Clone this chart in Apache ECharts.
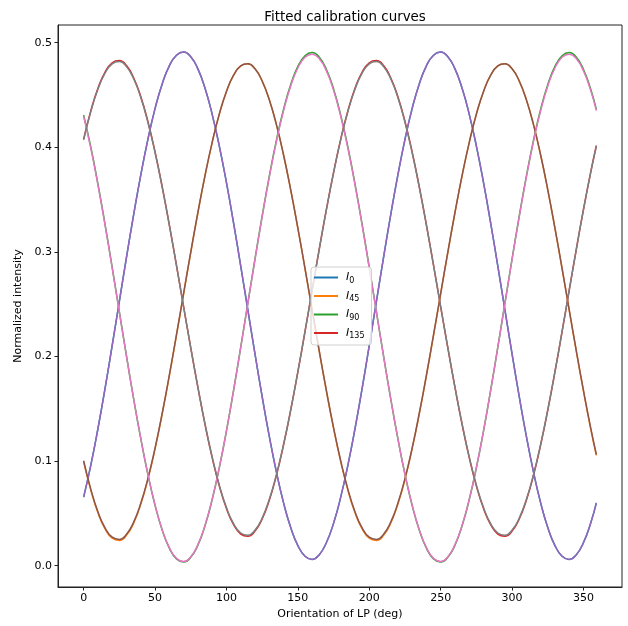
<!DOCTYPE html>
<html><head><meta charset="utf-8">
<script src="https://cdn.jsdelivr.net/npm/echarts@6/dist/echarts.min.js"></script>
<style>html,body{margin:0;padding:0;background:#fff}#c{width:628px;height:626px}</style>
</head><body><div id="c"></div>
<script>
const angles = [0,5,10,15,20,25,30,35,40,45,50,55,60,65,70,75,80,85,90,95,100,105,110,115,120,125,130,135,140,145,150,155,160,165,170,175,
180,185,190,195,200,205,210,215,220,225,230,235,240,245,250,255,260,265,270,275,280,285,290,295,300,305,310,315,320,325,330,335,340,345,350,355,359];

// measured curves (legend entries)
const I0 = [0.0655,0.0959,0.1309,0.1696,0.2106,0.2527,0.2948,0.3354,0.3734,0.4076,0.4370,0.4606,0.4778,0.4880,0.4910,0.4866,0.4749,0.4564,0.4315,0.4011,0.3661,0.3275,0.2864,0.2443,0.2022,0.1616,0.1236,0.0894,0.0600,0.0364,0.0192,0.0090,0.0060,0.0105,0.0221,0.0406,
0.0655,0.0959,0.1309,0.1696,0.2106,0.2527,0.2948,0.3354,0.3734,0.4076,0.4370,0.4606,0.4778,0.4880,0.4910,0.4866,0.4749,0.4564,0.4315,0.4011,0.3661,0.3275,0.2864,0.2443,0.2022,0.1616,0.1236,0.0894,0.0600,0.0364,0.0192,0.0090,0.0060,0.0105,0.0221,0.0406,0.0600];
const I45 = [0.0995,0.0723,0.0506,0.0351,0.0262,0.0241,0.0290,0.0406,0.0587,0.0825,0.1116,0.1449,0.1815,0.2202,0.2599,0.2994,0.3374,0.3728,0.4045,0.4317,0.4534,0.4689,0.4778,0.4799,0.4750,0.4633,0.4453,0.4214,0.3924,0.3590,0.3224,0.2837,0.2441,0.2046,0.1666,0.1311,
0.0995,0.0723,0.0506,0.0351,0.0262,0.0241,0.0290,0.0406,0.0587,0.0825,0.1116,0.1449,0.1815,0.2202,0.2599,0.2994,0.3374,0.3728,0.4045,0.4317,0.4534,0.4689,0.4778,0.4799,0.4750,0.4633,0.4453,0.4214,0.3924,0.3590,0.3224,0.2837,0.2441,0.2046,0.1666,0.1311,0.1055];
const I90 = [0.4307,0.4003,0.3651,0.3264,0.2851,0.2428,0.2005,0.1597,0.1216,0.0872,0.0577,0.0340,0.0167,0.0065,0.0035,0.0080,0.0196,0.0382,0.0632,0.0937,0.1289,0.1678,0.2090,0.2512,0.2935,0.3343,0.3724,0.4068,0.4363,0.4600,0.4773,0.4875,0.4905,0.4861,0.4744,0.4558,
0.4307,0.4003,0.3651,0.3264,0.2851,0.2428,0.2005,0.1597,0.1216,0.0872,0.0577,0.0340,0.0167,0.0065,0.0035,0.0080,0.0196,0.0382,0.0632,0.0937,0.1289,0.1678,0.2090,0.2512,0.2935,0.3343,0.3724,0.4068,0.4363,0.4600,0.4773,0.4875,0.4905,0.4861,0.4744,0.4558,0.4363];
const I135 = [0.4078,0.4348,0.4564,0.4719,0.4808,0.4829,0.4781,0.4665,0.4485,0.4246,0.3956,0.3623,0.3258,0.2872,0.2475,0.2082,0.1704,0.1349,0.1033,0.0762,0.0546,0.0392,0.0302,0.0281,0.0330,0.0446,0.0625,0.0864,0.1155,0.1487,0.1852,0.2238,0.2634,0.3028,0.3408,0.3760,
0.4078,0.4348,0.4564,0.4719,0.4808,0.4829,0.4781,0.4665,0.4485,0.4246,0.3956,0.3623,0.3258,0.2872,0.2475,0.2082,0.1704,0.1349,0.1033,0.0762,0.0546,0.0392,0.0302,0.0281,0.0330,0.0446,0.0625,0.0864,0.1155,0.1487,0.1852,0.2238,0.2634,0.3028,0.3408,0.3760,0.4017];

// fitted curves (drawn on top)
const fit0 = [0.0655,0.0959,0.1309,0.1696,0.2106,0.2527,0.2948,0.3354,0.3734,0.4076,0.4370,0.4606,0.4778,0.4880,0.4910,0.4866,0.4749,0.4564,0.4315,0.4011,0.3661,0.3275,0.2864,0.2443,0.2022,0.1616,0.1236,0.0894,0.0600,0.0364,0.0192,0.0090,0.0060,0.0105,0.0221,0.0406,
0.0655,0.0959,0.1309,0.1696,0.2106,0.2527,0.2948,0.3354,0.3734,0.4076,0.4370,0.4606,0.4778,0.4880,0.4910,0.4866,0.4749,0.4564,0.4315,0.4011,0.3661,0.3275,0.2864,0.2443,0.2022,0.1616,0.1236,0.0894,0.0600,0.0364,0.0192,0.0090,0.0060,0.0105,0.0221,0.0406,0.0600];
const fit45 = [0.1003,0.0732,0.0516,0.0361,0.0272,0.0251,0.0300,0.0416,0.0596,0.0834,0.1124,0.1457,0.1822,0.2208,0.2604,0.2998,0.3377,0.3731,0.4047,0.4318,0.4534,0.4689,0.4778,0.4799,0.4750,0.4634,0.4454,0.4216,0.3926,0.3593,0.3228,0.2842,0.2446,0.2052,0.1673,0.1319,
0.1003,0.0732,0.0516,0.0361,0.0272,0.0251,0.0300,0.0416,0.0596,0.0834,0.1124,0.1457,0.1822,0.2208,0.2604,0.2998,0.3377,0.3731,0.4047,0.4318,0.4534,0.4689,0.4778,0.4799,0.4750,0.4634,0.4454,0.4216,0.3926,0.3593,0.3228,0.2842,0.2446,0.2052,0.1673,0.1319,0.1063];
const fit90 = [0.4295,0.3991,0.3641,0.3255,0.2844,0.2423,0.2002,0.1596,0.1216,0.0874,0.0580,0.0344,0.0172,0.0070,0.0040,0.0085,0.0201,0.0386,0.0635,0.0939,0.1289,0.1676,0.2086,0.2507,0.2928,0.3334,0.3714,0.4056,0.4350,0.4586,0.4758,0.4860,0.4890,0.4846,0.4729,0.4544,
0.4295,0.3991,0.3641,0.3255,0.2844,0.2423,0.2002,0.1596,0.1216,0.0874,0.0580,0.0344,0.0172,0.0070,0.0040,0.0085,0.0201,0.0386,0.0635,0.0939,0.1289,0.1676,0.2086,0.2507,0.2928,0.3334,0.3714,0.4056,0.4350,0.4586,0.4758,0.4860,0.4890,0.4846,0.4729,0.4544,0.4350];
const fit135 = [0.4071,0.4340,0.4555,0.4709,0.4798,0.4819,0.4771,0.4655,0.4476,0.4238,0.3950,0.3618,0.3255,0.2870,0.2476,0.2084,0.1707,0.1355,0.1039,0.0770,0.0555,0.0401,0.0312,0.0291,0.0340,0.0455,0.0634,0.0872,0.1161,0.1492,0.1855,0.2240,0.2634,0.3026,0.3404,0.3755,
0.4071,0.4340,0.4555,0.4709,0.4798,0.4819,0.4771,0.4655,0.4476,0.4238,0.3950,0.3618,0.3255,0.2870,0.2476,0.2084,0.1707,0.1355,0.1039,0.0770,0.0555,0.0401,0.0312,0.0291,0.0340,0.0455,0.0634,0.0872,0.1161,0.1492,0.1855,0.2240,0.2634,0.3026,0.3404,0.3755,0.4011];

const xTicks = [0,50,100,150,200,250,300,350];
const yTicks = [0,0.1,0.2,0.3,0.4,0.5];
const legendNames = ['I0','I45','I90','I135'];

const FONT = 'DejaVu Sans';
function mk(name, arr, color) {
  return {
    name: name, type: 'line', data: angles.map((a, i) => [a, arr[i]]),
    showSymbol: false, symbol: 'none', smooth: true,
    lineStyle: { color: color, width: 1.5 }, itemStyle: { color: color },
    emphasis: { disabled: true }, animation: false
  };
}

const chart = echarts.init(document.getElementById('c'));
chart.setOption({
  animation: false,
  title: {
    text: 'Fitted calibration curves', left: 340, top: 6, textAlign: 'center',
    textStyle: { fontFamily: FONT, fontSize: 13.4, fontWeight: 'normal', color: '#000' }
  },
  grid: { left: 58, right: 6, top: 25, bottom: 39, show: true, borderColor: '#222', borderWidth: 1, backgroundColor: 'transparent' },
  xAxis: {
    type: 'value', min: -17.95, max: 376.95,
    name: 'Orientation of LP (deg)', nameLocation: 'middle', nameGap: 22,
    nameTextStyle: { fontFamily: FONT, fontSize: 11, color: '#000' },
    axisLine: { show: true, onZero: false, lineStyle: { color: '#222', width: 1 } },
    axisTick: { show: true, length: 3.5, customValues: xTicks, lineStyle: { color: '#222' } },
    axisLabel: { customValues: xTicks, margin: 6, fontFamily: FONT, fontSize: 11, color: '#000' },
    splitLine: { show: false }
  },
  yAxis: {
    type: 'value', min: -0.0204, max: 0.5169,
    name: 'Normalized intensity', nameLocation: 'middle', nameGap: 30,
    nameTextStyle: { fontFamily: FONT, fontSize: 11, color: '#000' },
    axisLine: { show: true, onZero: false, lineStyle: { color: '#222', width: 1 } },
    axisTick: { show: true, length: 3.5, customValues: yTicks, lineStyle: { color: '#222' } },
    axisLabel: { customValues: yTicks, margin: 6, fontFamily: FONT, fontSize: 11, color: '#000', formatter: v => v.toFixed(1) },
    splitLine: { show: false }
  },
  legend: {
    data: legendNames, orient: 'vertical', left: 311, top: 267,
    padding: [5, 7, 5, 3], itemGap: 6, itemWidth: 24, itemHeight: 2, icon: 'rect',
    selectedMode: false,
    borderColor: '#d0d0d0', borderWidth: 1, borderRadius: 3, backgroundColor: 'rgba(255,255,255,0.8)',
    formatter: n => '{i|I}{s|' + n.slice(1) + '}',
    textStyle: {
      fontFamily: FONT, fontSize: 11, color: '#000',
      rich: {
        i: { fontFamily: FONT, fontStyle: 'italic', fontSize: 11, color: '#000', padding: [0, 0, 0, 3] },
        s: { fontFamily: FONT, fontSize: 8, color: '#000', padding: [6, 0, 0, 0] }
      }
    }
  },
  series: [
    mk('I0', I0, '#1f77b4'),
    mk('I45', I45, '#ff7f0e'),
    mk('I90', I90, '#2ca02c'),
    mk('I135', I135, '#d62728'),
    mk('fit0', fit0, '#9467bd'),
    mk('fit45', fit45, '#8c564b'),
    mk('fit90', fit90, '#e377c2'),
    mk('fit135', fit135, '#7f7f7f')
  ]
});
</script>
</body></html>
